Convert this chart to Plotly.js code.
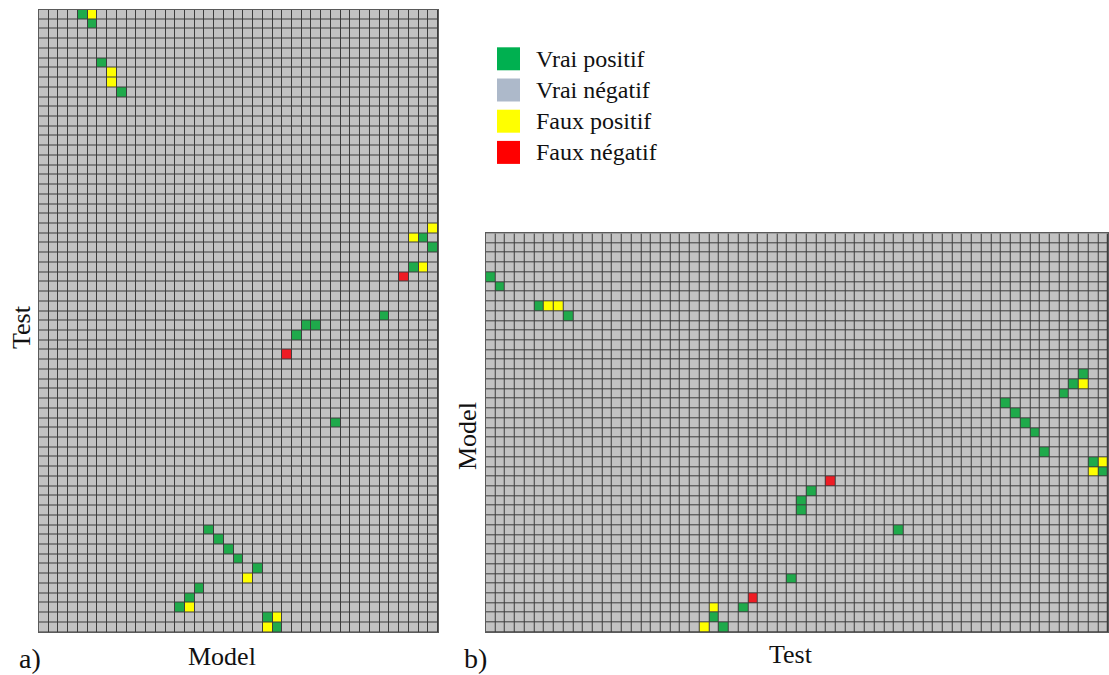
<!DOCTYPE html>
<html>
<head>
<meta charset="utf-8">
<script src="https://cdn.plot.ly/plotly-3.0.1.min.js"></script>
<style>html,body{margin:0;padding:0;background:#fff;}#chart{width:1109px;height:675px;}</style>
</head>
<body>
<div id="chart"></div>
<script>
// Grid sizes
const leftCols = 41, leftRows = 64;
const rightCols = 64, rightRows = 41;

// Panel a) cells [column, row-from-top]
const leftTP = [[4,0],[5,1],[6,5],[8,8],[39,23],[40,24],[38,26],[35,31],[27,32],[28,32],[26,33],[30,42],
  [17,53],[18,54],[19,55],[20,56],[22,57],[16,59],[15,60],[14,61],[23,62],[24,63]];
const leftFP = [[5,0],[7,6],[7,7],[40,22],[38,23],[39,26],[21,58],[15,61],[24,62],[23,63]];
const leftFN = [[37,27],[25,35]];

// Panel b) cells [column, row-from-top]
const rightTP = [[0,4],[1,5],[5,7],[8,8],[61,14],[60,15],[59,16],[53,17],[54,18],[55,19],[56,20],[57,22],
  [62,23],[63,24],[33,26],[32,27],[32,28],[42,30],[31,35],[26,38],[23,39],[24,40]];
const rightFP = [[6,7],[7,7],[61,15],[63,23],[62,24],[23,38],[22,40]];
const rightFN = [[35,25],[27,37]];

// Legend
const legendLabels = ['Vrai positif','Vrai négatif','Faux positif','Faux négatif'];
const legendColors = ['#00b050','#adb9ca','#ffff00','#ff0000'];

const cellGray = '#c2c2c2', cellGreen = '#1faa4b', cellYellow = '#ffff00', cellRed = '#ee1c24';

function buildZ(cols, rows, tp, fp, fn) {
  const z = [];
  for (let r = 0; r < rows; r++) { z.push(new Array(cols).fill(0)); }
  tp.forEach(c => z[c[1]][c[0]] = 1);
  fp.forEach(c => z[c[1]][c[0]] = 2);
  fn.forEach(c => z[c[1]][c[0]] = 3);
  return z;
}
function range(n){ return Array.from({length:n},(_,i)=>i); }

const cs = [[0,cellGray],[1/3,cellGreen],[2/3,cellYellow],[1,cellRed]];

const traces = [
  {type:'heatmap', z: buildZ(leftCols,leftRows,leftTP,leftFP,leftFN), x: range(leftCols), y: range(leftRows),
   colorscale: cs, zmin:0, zmax:3, showscale:false, xgap:1, ygap:1, xaxis:'x', yaxis:'y', hoverinfo:'skip'},
  {type:'heatmap', z: buildZ(rightCols,rightRows,rightTP,rightFP,rightFN), x: range(rightCols), y: range(rightRows),
   colorscale: cs, zmin:0, zmax:3, showscale:false, xgap:1, ygap:1, xaxis:'x2', yaxis:'y2', hoverinfo:'skip'}
];

const W = 1109, H = 675;
const px = v => v / W, py = v => 1 - v / H;
const axBase = {showgrid:false, zeroline:false, showticklabels:false, ticks:'', showline:true, mirror:true,
  linecolor:'#5a5a5a', linewidth:1, fixedrange:true};

const font = 'Liberation Serif, Times New Roman, serif';
const annotations = [
  {text:'Test', x:px(21), y:py(327), textangle:-90, font:{size:26}},
  {text:'Model', x:px(222), y:py(656), font:{size:26}},
  {text:'a)', x:px(30), y:py(658), font:{size:28}},
  {text:'Model', x:px(467), y:py(436), textangle:-90, font:{size:26}},
  {text:'Test', x:px(791), y:py(654), font:{size:26}},
  {text:'b)', x:px(475), y:py(658), font:{size:28}}
].map(a => Object.assign({xref:'paper', yref:'paper', showarrow:false, xanchor:'center', yanchor:'middle'}, a,
   {font:{family:font, color:'#111', size:a.font.size}}));

const shapes = [];
const legTop = 47.3, legPitch = 31.2, sq = 23;
legendLabels.forEach((lab, i) => {
  const y0 = legTop + i*legPitch;
  shapes.push({type:'rect', xref:'paper', yref:'paper', x0:px(497), x1:px(497+sq), y0:py(y0+sq), y1:py(y0),
    fillcolor: legendColors[i], line:{width:0}});
  annotations.push({text:lab, xref:'paper', yref:'paper', x:px(534), y:py(y0+sq/2), xanchor:'left', yanchor:'middle',
    showarrow:false, font:{family:font, size:24, color:'#111'}});
});

const layout = {
  width: W, height: H, margin:{l:0,r:0,t:0,b:0}, paper_bgcolor:'#fff', plot_bgcolor:'#3c3c3c',
  showlegend:false,
  xaxis: Object.assign({}, axBase, {domain:[px(39), px(438)], range:[-0.5, leftCols-0.5], anchor:'y'}),
  yaxis: Object.assign({}, axBase, {domain:[py(632), py(9.5)], range:[leftRows-0.5, -0.5], anchor:'x'}),
  xaxis2: Object.assign({}, axBase, {domain:[px(485.7), px(1108)], range:[-0.5, rightCols-0.5], anchor:'y2'}),
  yaxis2: Object.assign({}, axBase, {domain:[py(632.2), py(233.3)], range:[rightRows-0.5, -0.5], anchor:'x2'}),
  annotations: annotations,
  shapes: shapes
};

Plotly.newPlot('chart', traces, layout, {staticPlot:true, displayModeBar:false});
</script>
</body>
</html>
